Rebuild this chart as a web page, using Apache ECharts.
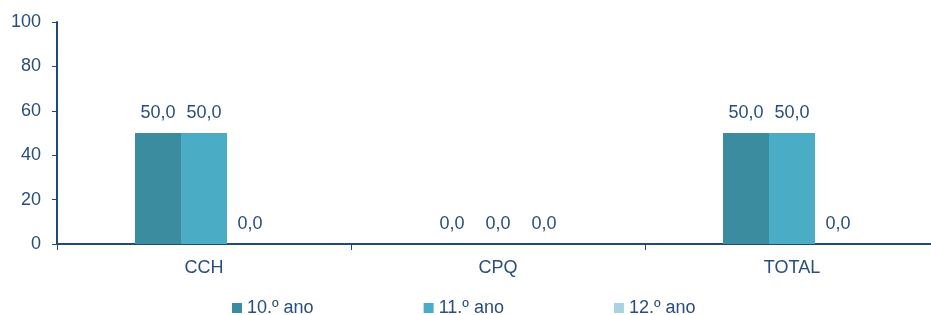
<!DOCTYPE html>
<html>
  <head>
    <meta charset="utf-8" />
    <title></title>
    <script src="https://cdn.jsdelivr.net/npm/echarts@6/dist/echarts.min.js"></script>
    <style>
      html, body { margin: 0; padding: 0; background: #fff; }
      #bar { width: 931px; height: 315px; }
    </style>
  </head>
  <body>
    <div id="bar"></div>
    <script>
      var categories = ['CCH', 'CPQ', 'TOTAL'];
      var seriesNames = ['10.º ano', '11.º ano', '12.º ano'];
      var ano10 = [50, 0, 50];
      var ano11 = [50, 0, 50];
      var ano12 = [0, 0, 0];
      var colors = ['#3C8CA0', '#4BACC6', '#A9D2DF'];
      var textColor = '#2A4D7F';

      var myChart1 = echarts.init(document.getElementById('bar'));

      function fmt(p) {
        return p.value.toFixed(1).replace('.', ',');
      }

      function mkSeries(name, data, i) {
        return {
          name: name,
          type: 'bar',
          data: data,
          barWidth: 46,
          barGap: '0%',
          itemStyle: { color: colors[i] },
          label: {
            show: true,
            position: 'top',
            distance: 11,
            formatter: fmt,
            color: textColor,
            fontSize: 18,
            fontFamily: 'Liberation Sans'
          }
        };
      }

      var option = {
        animation: false,
        textStyle: { fontFamily: 'Liberation Sans' },
        grid: { left: 57, top: 22, right: -8, bottom: 71, containLabel: false, outerBoundsMode: 'none' },
        legend: {
          top: 294,
          left: 227,
          itemWidth: 10,
          itemHeight: 10,
          itemGap: 110,
          icon: 'rect',
          textStyle: { color: textColor, fontSize: 18, fontFamily: 'Liberation Sans' },
          data: seriesNames
        },
        xAxis: {
          type: 'category',
          data: categories,
          axisLine: { lineStyle: { color: '#1F497D', width: 2 } },
          axisTick: { show: true, length: 6, lineStyle: { color: '#1F497D' } },
          axisLabel: { color: textColor, fontSize: 18, margin: 15 }
        },
        yAxis: {
          type: 'value',
          min: 0,
          max: 100,
          interval: 20,
          splitLine: { show: false },
          axisLine: { show: true, lineStyle: { color: '#1F497D', width: 2 } },
          axisTick: { show: true, length: 5, lineStyle: { color: '#1F497D' } },
          axisLabel: { color: textColor, fontSize: 18, margin: 16 }
        },
        series: [
          mkSeries(seriesNames[0], ano10, 0),
          mkSeries(seriesNames[1], ano11, 1),
          mkSeries(seriesNames[2], ano12, 2)
        ]
      };

      myChart1.setOption(option);
    </script>
  </body>
</html>
